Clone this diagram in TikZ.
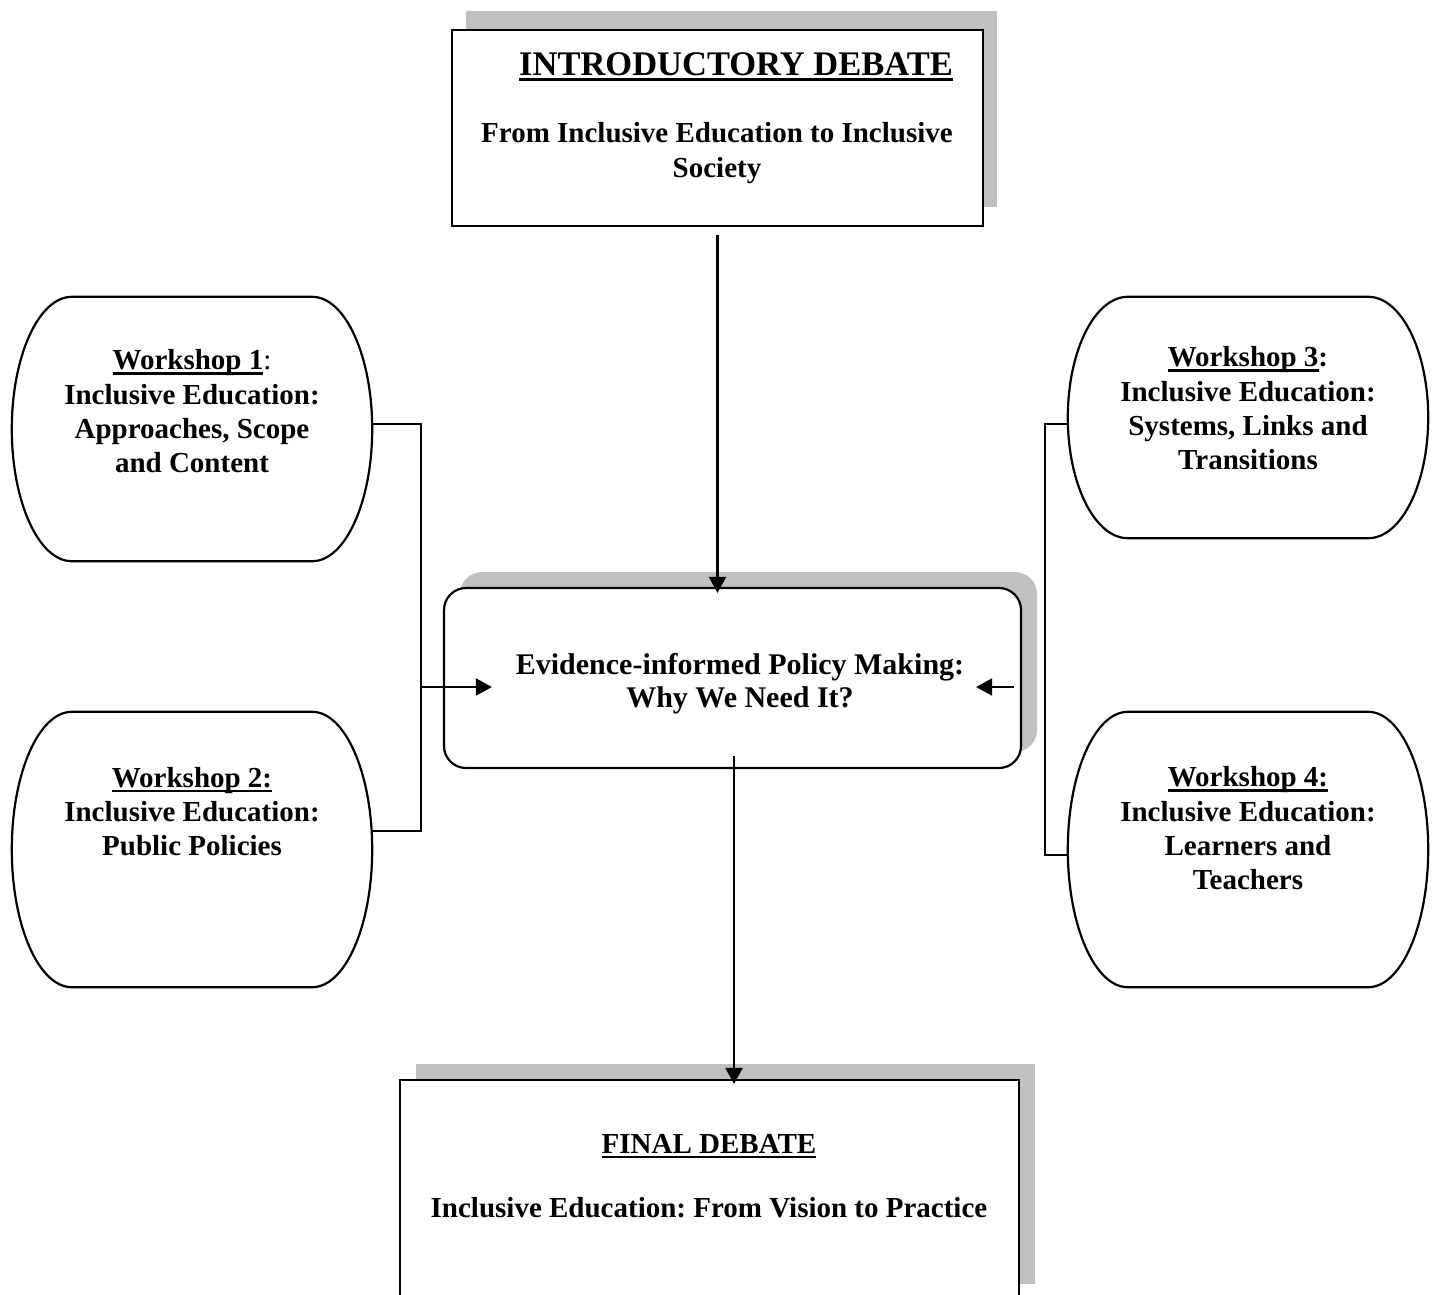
\documentclass[tikz,border=0pt]{standalone}
\usepackage{fontspec}
\setmainfont{Liberation Serif}
\usetikzlibrary{arrows.meta,shadows,calc}
\definecolor{shadowgray}{HTML}{C0C0C0}
\frenchspacing
\newcommand\myul[1]{\setbox0\hbox{#1}\rlap{\vrule width\wd0 height -2.5pt depth 5pt}\box0}
\newcommand\myulbig[1]{\setbox0\hbox{#1}\rlap{\vrule width\wd0 height -3pt depth 6pt}\box0}
\newcommand\wsshape[1]{%
  \draw[wsline] ($(#1.north west)+(60,0)$) -- ($(#1.north east)+(-60,0)$)
    .. controls ($(#1.north east)+(-27,0)$) and ($(#1.east)!0.552!(#1.north east)$) .. (#1.east)
    .. controls ($(#1.east)!0.552!(#1.south east)$) and ($(#1.south east)+(-27,0)$) .. ($(#1.south east)+(-60,0)$)
    -- ($(#1.south west)+(60,0)$)
    .. controls ($(#1.south west)+(27,0)$) and ($(#1.west)!0.552!(#1.south west)$) .. (#1.west)
    .. controls ($(#1.west)!0.552!(#1.north west)$) and ($(#1.north west)+(27,0)$) .. cycle;}
\begin{document}
\begin{tikzpicture}[x=1pt,y=-1pt,
  txt/.style={font=\bfseries\fontsize{29}{34.3}\selectfont, align=center, inner sep=0pt},
  ctxt/.style={font=\bfseries\fontsize{30}{33.5}\selectfont, align=center, inner sep=0pt},
  bigtxt/.style={font=\bfseries\fontsize{34.5}{40}\selectfont, inner sep=0pt},
  frame/.style={inner sep=0pt, draw=none},
  boxline/.style={draw=black, line width=2.2pt, fill=white},
  wsline/.style={draw=black, line width=2.2pt},
  conn/.style={draw=black, line width=2.2pt},
  arr/.style={conn, -{Triangle[length=16pt,width=17pt]}}
]
\clip (0,0) rectangle (1439,1294);
\fill[white] (0,0) rectangle (1439,1294);

% boxes
\node[boxline, inner sep=0pt, minimum width=531pt, minimum height=196pt,
  drop shadow={shadow xshift=14pt, shadow yshift=19pt, fill=shadowgray, opacity=1}] (intro) at (717.5,128) {};
\node[boxline, inner sep=0pt, rounded corners=22pt, minimum width=577pt, minimum height=180pt,
  drop shadow={shadow xshift=16pt, shadow yshift=16pt, fill=shadowgray, opacity=1}] (central) at (732.5,678) {};
\node[boxline, inner sep=0pt, minimum width=619pt, minimum height=220pt,
  drop shadow={shadow xshift=16pt, shadow yshift=16pt, fill=shadowgray, opacity=1}] (final) at (709.5,1190) {};

% workshop frames
\node[frame, minimum width=360pt, minimum height=264pt] (ws1) at (192,429) {};
\node[frame, minimum width=360pt, minimum height=275pt] (ws2) at (192,849.5) {};
\node[frame, minimum width=360pt, minimum height=241pt] (ws3) at (1248,417.5) {};
\node[frame, minimum width=360pt, minimum height=275pt] (ws4) at (1248,849.5) {};
\wsshape{ws1}
\wsshape{ws2}
\wsshape{ws3}
\wsshape{ws4}

% texts
\node[bigtxt, anchor=base] (introhead) at (736,75) {\myulbig{INTRODUCTORY DEBATE}};
\node[txt] (introsub) at (717,153) {From Inclusive Education to Inclusive\\Society};
\node[ctxt] (centraltxt) at (740,683.5) {Evidence-informed Policy Making:\\Why We Need It?};
\node[txt, anchor=base] (finalhead) at (709,1153) {\myul{FINAL DEBATE}};
\node[txt, anchor=base] (finalsub) at (709,1217) {Inclusive Education: From Vision to Practice};
\node[txt] (t1) at (192,411.5) {\myul{Workshop 1}{\mdseries:}\\Inclusive Education:\\Approaches, Scope\\and Content};
\node[txt] (t2) at (192,811.5) {\myul{Workshop 2:}\\Inclusive Education:\\Public Policies};
\node[txt] (t3) at (1248,408.5) {\myul{Workshop 3}:\\Inclusive Education:\\Systems, Links and\\Transitions};
\node[txt] (t4) at (1248,828.5) {\myul{Workshop 4:}\\Inclusive Education:\\Learners and\\Teachers};

% connectors
\coordinate (lj) at (421,687);
\coordinate (rj) at (1045,687);
\draw[conn] ([yshift=5pt]ws1.east) -| (lj) |- ([yshift=18.5pt]ws2.east);
\draw[conn] ([yshift=-6.5pt]ws3.west) -| (rj) |- ([yshift=-5.5pt]ws4.west);
\draw[arr] (lj) -- ([xshift=49pt]central.west |- lj);
\draw[arr] ([xshift=-8pt]central.east |- rj) -- ([xshift=-46pt]central.east |- rj);
\draw[arr] ([yshift=-8pt]intro.south) -- ([yshift=-6pt]intro.south |- central.north);
\draw[arr] ([xshift=1.5pt,yshift=13pt]central.south) -- ([xshift=1.5pt,yshift=-5pt]central.south |- final.north);
\end{tikzpicture}
\end{document}
